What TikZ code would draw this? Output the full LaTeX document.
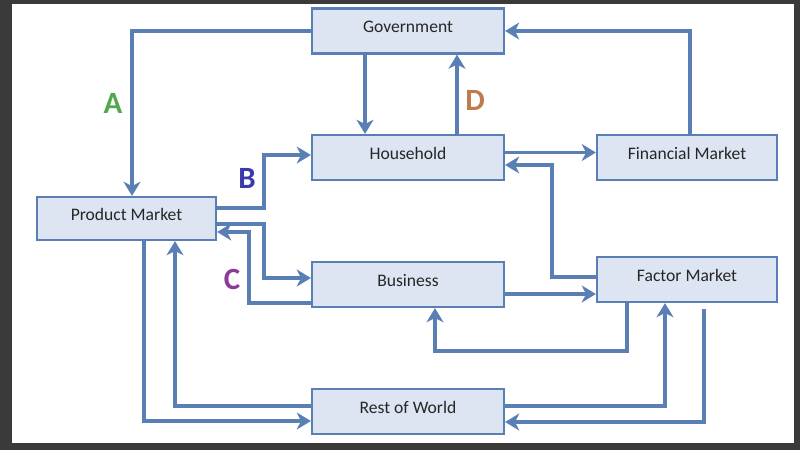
\documentclass[tikz,border=0pt]{standalone}
\usepackage{fontspec}
\setmainfont{Carlito}
\usetikzlibrary{arrows.meta,calc}

\definecolor{boxline}{HTML}{5A7FB4}
\definecolor{boxfill}{HTML}{DCE5F1}
\definecolor{frame}{HTML}{3A3A3A}
\definecolor{labA}{HTML}{52A84C}
\definecolor{labB}{HTML}{3A3AAE}
\definecolor{labC}{HTML}{8C3C96}
\definecolor{labD}{HTML}{BF7A4E}

\begin{document}
\begin{tikzpicture}[x=0.025cm, y=-0.025cm,
		sector/.style={draw=boxline, fill=boxfill, line width=1.6pt, text=black!85,
			minimum width=192*0.025cm, minimum height=45*0.025cm, inner sep=0pt,
			text height=9pt, text depth=6.5pt,
			font=\fontsize{12.5}{14}\selectfont},
		flow/.style={draw=boxline, line width=2.5pt,
			-{Stealth[length=10pt, width=12pt, inset=3pt]}},
		letter/.style={font=\fontsize{22}{24}\selectfont\bfseries}]
			\fill[frame] (0,0) rectangle (800,450);
			\fill[white] (12,4) rectangle (794,443);

			\node[sector] (gov) at (408,31) {Government};
			\node[sector] (hh) at (408,157.5) {Household};
			\node[sector, minimum width=180*0.025cm] (fin) at (687,157.5) {Financial Market};
			\node[sector, minimum width=179*0.025cm, minimum height=43*0.025cm] (pm) at (126.5,218.5) {Product Market};
			\node[sector] (bus) at (408,284.5) {Business};
			\node[sector, minimum width=180*0.025cm] (fac) at (687,279.5) {Factor Market};
			\node[sector] (row) at (408,411.5) {Rest of World};

			% government and household
			\draw[flow] (gov.west) -| ($(pm.north)+(5.5,0)$);
			\draw[flow] ($(gov.south)+(-43,0)$) -- ($(hh.north)+(-43,0)$);
			\draw[flow] ($(hh.north)+(49,0)$) -- ($(gov.south)+(49,0)$);
			\draw[flow] ($(fin.north)+(3,0)$) |- (gov.east);
			\draw[flow] ($(hh.east)+(0,-5)$) -- ($(fin.west)+(0,-5)$);
			\draw[flow] ($(fac.west)+(0,-2.5)$) -| ($(hh.east)+(47,7.5)$) -- ($(hh.east)+(0,7.5)$);

			% product market and business
			\draw[flow] ($(pm.east)+(0,-10.5)$) -| ($(hh.west)+(-47,-2.5)$) -- ($(hh.west)+(0,-2.5)$);
			\draw[flow] ($(pm.east)+(0,5.5)$) -| ($(bus.west)+(-47,-6.5)$) -- ($(bus.west)+(0,-6.5)$);
			\draw[flow] ($(bus.west)+(0,18.5)$) -| ($(pm.east)+(32,13.5)$) -- ($(pm.east)+(0,13.5)$);
			\draw[flow] ($(bus.east)+(0,9.5)$) -- ($(fac.west)+(0,14.5)$);
			\draw[flow] ($(fac.south)+(-60,0)$) |- ($(bus.south)+(27,43)$) -- ($(bus.south)+(27,0)$);

			% rest of world
			\draw[flow] ($(row.west)+(0,-5.5)$) -| ($(pm.south)+(48.5,0)$);
			\draw[flow] ($(pm.south)+(17.5,0)$) |- ($(row.west)+(0,9.5)$);
			\draw[flow] ($(row.east)+(0,-5.5)$) -| ($(fac.south)+(-22,0)$);
			\draw[flow] ($(fac.south)+(17,6)$) |- ($(row.east)+(0,10.5)$);

			\node[letter, text=labA] (la) at (113,103) {A};
			\node[letter, text=labB] (lb) at (247,178) {B};
			\node[letter, text=labC] (lc) at (232,279) {C};
			\node[letter, text=labD] (ld) at (475,100) {D};
\end{tikzpicture}
\end{document}
